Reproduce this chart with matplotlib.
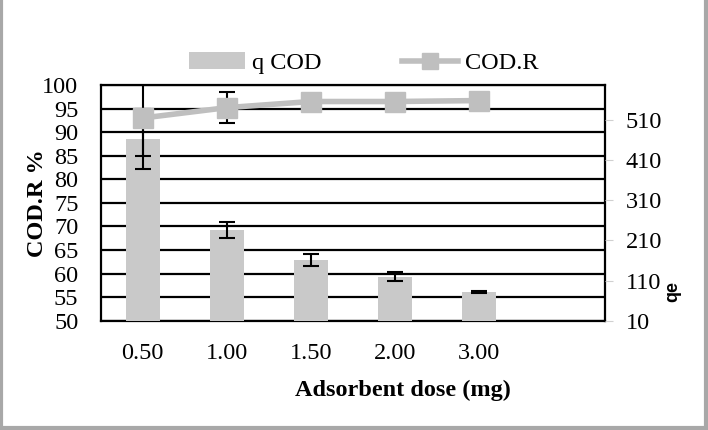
import matplotlib.pyplot as plt
from matplotlib.patches import Patch
from matplotlib.lines import Line2D

plt.rcParams['font.family'] = ['Liberation Serif', 'DejaVu Serif']

# data
dose_labels = ['0.50', '1.00', '1.50', '2.00', '3.00']
qe = [463, 236, 160, 120, 81]
qe_err = [75, 21, 15, 11, 2]
cod_r = [93.0, 95.2, 96.5, 96.5, 96.7]
cod_r_err = [8, 3.3, 0.4, 0.4, 0.4]
left_ticks = [50, 55, 60, 65, 70, 75, 80, 85, 90, 95, 100]
right_ticks = [10, 110, 210, 310, 410, 510]

bar_col = '#c9c9c9'
line_col = '#bfbfbf'
fs = 17.5

fig = plt.figure(figsize=(7.08, 4.30), dpi=100)
x = list(range(len(dose_labels)))

# bottom layer: left scale + grid + frame
ax = fig.add_axes([0.1422, 0.2542, 0.7123, 0.5481])
ax.set_ylim(50, 100)
ax.set_xlim(-0.5, 5.5)
ax.set_yticks(left_ticks)
ax.yaxis.grid(True, color='black', lw=1.6)
ax.set_axisbelow(True)
ax.tick_params(axis='y', length=0, pad=16, labelsize=fs)
ax.set_xticks(x)
ax.set_xticklabels(dose_labels)
ax.tick_params(axis='x', length=0, pad=16, labelsize=fs)
for s in ax.spines.values():
    s.set_linewidth(1.6)
    s.set_color('black')
ax.set_ylabel('COD.R %', fontsize=fs, fontweight='bold')
ax.yaxis.set_label_coords(-0.104, 0.5)

# bars on the right scale
axb = ax.twinx()
axb.set_ylim(10, 597)
axb.set_yticks(right_ticks)
axb.tick_params(axis='y', length=6, width=0.8, color='#d0d0d0', pad=9, labelsize=fs)
for s in axb.spines.values():
    s.set_visible(False)
axb.bar(x, qe, width=0.4, color=bar_col, zorder=2)
axb.errorbar(x, qe, yerr=qe_err, fmt='none', ecolor='black', elinewidth=1.5,
             capsize=5.5, capthick=1.5, zorder=3)

# line on top, left scale
axl = ax.twinx()
axl.set_ylim(50, 100)
axl.set_yticks([])
for s in axl.spines.values():
    s.set_visible(False)
axl.errorbar(x, cod_r, yerr=cod_r_err, fmt='none', ecolor='black', elinewidth=1.5,
             capsize=5.5, capthick=1.5, zorder=2)
axl.plot(x, cod_r, color=line_col, lw=4, marker='s', markersize=15,
         markerfacecolor=line_col, markeredgecolor=line_col, zorder=3)
axl.set_xlim(-0.5, 5.5)

fig.text(403 / 708, 1 - 390 / 430, 'Adsorbent dose (mg)', ha='center', va='center',
         fontsize=fs, fontweight='bold')
fig.text(673 / 708, 1 - 292 / 430, 'qe', ha='center', va='center', rotation=90,
         fontsize=13, fontweight='bold', family=['Liberation Sans', 'DejaVu Sans'])

handles = [Patch(facecolor=bar_col, edgecolor='none'),
           Line2D([], [], color=line_col, lw=4, marker='s', markersize=11,
                  markerfacecolor=line_col, markeredgecolor=line_col)]
fig.legend(handles, ['q COD', 'COD.R'], loc='center', ncol=2,
           bbox_to_anchor=(364 / 708, 1 - 63 / 430), frameon=False, fontsize=fs,
           handlelength=2.3, handletextpad=0.3, columnspacing=3.3)

# outer frame of the picture
border = '#a8a8a8'
fig.add_artist(Line2D([0.002, 0.002], [0, 1], transform=fig.transFigure, color=border, lw=3))
fig.add_artist(Line2D([0.997, 0.997], [0, 1], transform=fig.transFigure, color=border, lw=3))
fig.add_artist(Line2D([0, 1], [0.004, 0.004], transform=fig.transFigure, color=border, lw=3))

fig.savefig('out.png', dpi=100)
